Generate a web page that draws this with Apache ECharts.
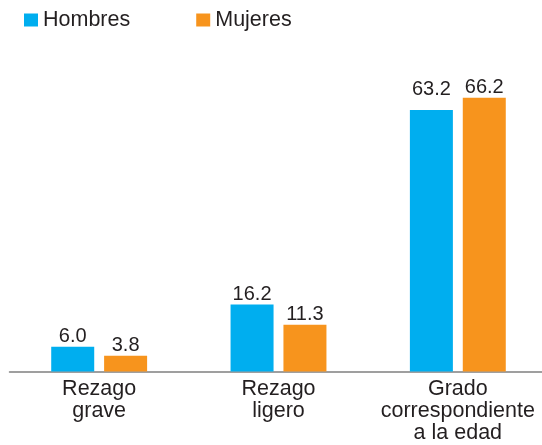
<!DOCTYPE html>
<html>
<head>
<meta charset="utf-8">
<script src="https://cdn.jsdelivr.net/npm/echarts@6/dist/echarts.min.js"></script>
<style>
  html, body { margin: 0; padding: 0; background: #fff; }
  #main { width: 542px; height: 445px; }
</style>
</head>
<body>
<div id="main"></div>
<script>
// datos
var categories = ["Rezago\ngrave", "Rezago\nligero", "Grado\ncorrespondiente\na la edad"];
var hombres = [6.0, 16.2, 63.2];
var mujeres = [3.8, 11.3, 66.2];
var labelDist = [[0, 0, 11], [0, 0, 0]];

var txt = "#231f20";
var font = "Liberation Sans";

function items(vals, k) {
  return vals.map(function (v, i) {
    return { value: v, label: { distance: labelDist[k][i] } };
  });
}

var myChart = echarts.init(document.getElementById("main"));
myChart.setOption({
  animation: false,
  color: ["#00aeef", "#f7941d"],
  legend: {
    left: 19,
    top: 4,
    itemWidth: 14,
    itemHeight: 13,
    itemGap: 66,
    icon: "rect",
    textStyle: { color: txt, fontSize: 21.5, fontFamily: font },
    data: ["Hombres", "Mujeres"]
  },
  grid: {
    left: 9.5,
    width: 538,
    top: 40.6,
    bottom: 73.5,
    containLabel: false,
    outerBoundsMode: "none"
  },
  xAxis: {
    type: "category",
    data: categories,
    axisLine: { lineStyle: { color: "#808080", width: 1.5 } },
    axisTick: { show: false },
    axisLabel: {
      color: txt,
      fontSize: 21.5,
      fontFamily: font,
      lineHeight: 22,
      margin: 7,
      interval: 0
    }
  },
  yAxis: {
    type: "value",
    min: 0,
    max: 80,
    show: false
  },
  series: [
    {
      name: "Hombres",
      type: "bar",
      barWidth: 43,
      barGap: "23%",
      data: items(hombres, 0),
      label: {
        show: true,
        position: "top",
        color: txt,
        fontSize: 20,
        fontFamily: font,
        formatter: function (p) { return p.value.toFixed(1); }
      }
    },
    {
      name: "Mujeres",
      type: "bar",
      barWidth: 43,
      barGap: "23%",
      data: items(mujeres, 1),
      label: {
        show: true,
        position: "top",
        color: txt,
        fontSize: 20,
        fontFamily: font,
        formatter: function (p) { return p.value.toFixed(1); }
      }
    }
  ]
});
</script>
</body>
</html>
